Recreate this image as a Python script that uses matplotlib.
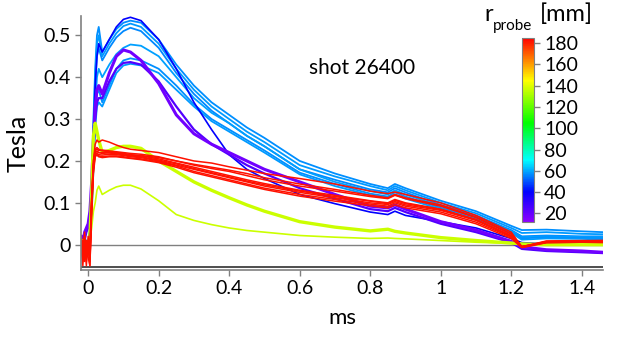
import numpy as np
import matplotlib
matplotlib.use("Agg")
import matplotlib.pyplot as plt
from matplotlib.colors import LinearSegmentedColormap, Normalize
from matplotlib.cm import ScalarMappable

plt.rcParams['font.family'] = ['Lato', 'DejaVu Sans']

# time base (ms)
t = [-0.02, -0.015, -0.01, -0.005, 0.0, 0.005, 0.01, 0.015, 0.02, 0.025, 0.03, 0.04,
     0.06, 0.08, 0.1, 0.12, 0.15, 0.2, 0.25, 0.3, 0.35, 0.4, 0.45, 0.5, 0.6, 0.7,
     0.8, 0.85, 0.87, 0.9, 1.0, 1.1, 1.2, 1.23, 1.3, 1.4, 1.46]

# probe radius of each trace (mm)
r_blue = [57, 58, 56, 59, 57, 58]
r_dark = 40
r_purple = [18, 24]
r_yellow = [137, 137]
r_red = 182

# light blue traces
b1 = [0.01, -0.01, 0.02, 0.0, 0.0, 0.04, 0.15, 0.3, 0.42, 0.5, 0.52, 0.46, 0.49, 0.515, 0.53, 0.535, 0.53,
      0.49, 0.43, 0.38, 0.34, 0.31, 0.28, 0.255, 0.2, 0.17, 0.145, 0.135, 0.145, 0.135, 0.105, 0.08, 0.045,
      0.035, 0.036, 0.032, 0.03]
b2 = [0.0, 0.01, -0.01, 0.01, 0.0, 0.03, 0.13, 0.28, 0.4, 0.48, 0.5, 0.45, 0.48, 0.505, 0.522, 0.528, 0.52,
      0.48, 0.42, 0.37, 0.33, 0.3, 0.27, 0.245, 0.19, 0.163, 0.14, 0.13, 0.14, 0.13, 0.1, 0.075, 0.04,
      0.028, 0.03, 0.026, 0.025]
b3 = [0.0, 0.0, 0.01, -0.01, 0.0, 0.03, 0.12, 0.26, 0.38, 0.45, 0.47, 0.44, 0.47, 0.495, 0.51, 0.518, 0.51,
      0.47, 0.41, 0.36, 0.32, 0.29, 0.26, 0.235, 0.18, 0.155, 0.132, 0.125, 0.135, 0.125, 0.095, 0.07, 0.035,
      0.02, 0.022, 0.02, 0.02]
b4 = [0.0, -0.02, 0.01, 0.0, -0.01, 0.02, 0.1, 0.22, 0.33, 0.4, 0.42, 0.4, 0.43, 0.455, 0.47, 0.478, 0.475,
      0.45, 0.4, 0.35, 0.315, 0.29, 0.26, 0.235, 0.18, 0.15, 0.128, 0.12, 0.13, 0.12, 0.092, 0.068, 0.032,
      0.018, 0.02, 0.018, 0.018]
b5 = [0.0, 0.0, -0.01, 0.01, 0.0, 0.02, 0.08, 0.2, 0.3, 0.36, 0.37, 0.34, 0.38, 0.42, 0.44, 0.445, 0.44,
      0.42, 0.38, 0.335, 0.3, 0.275, 0.25, 0.225, 0.172, 0.145, 0.122, 0.115, 0.125, 0.115, 0.088, 0.065, 0.03,
      0.015, 0.018, 0.016, 0.015]
b6 = [0.0, 0.01, 0.0, -0.02, 0.0, 0.02, 0.07, 0.18, 0.28, 0.33, 0.34, 0.33, 0.37, 0.41, 0.428, 0.432, 0.428,
      0.41, 0.37, 0.33, 0.295, 0.27, 0.245, 0.22, 0.168, 0.14, 0.118, 0.112, 0.12, 0.11, 0.085, 0.062, 0.028,
      0.012, 0.015, 0.014, 0.012]

# dark blue trace
d1 = [0.0, 0.01, 0.0, 0.0, 0.0, 0.03, 0.12, 0.26, 0.38, 0.45, 0.48, 0.46, 0.49, 0.52, 0.538, 0.543, 0.535,
      0.49, 0.42, 0.34, 0.275, 0.215, 0.18, 0.158, 0.12, 0.098, 0.078, 0.072, 0.08, 0.07, 0.055, 0.04, 0.015,
      0.005, 0.002, 0.0, 0.0]

# purple traces
p1 = [0.02, 0.0, 0.03, 0.04, 0.05, 0.08, 0.15, 0.25, 0.33, 0.37, 0.38, 0.36, 0.41, 0.45, 0.465, 0.46, 0.44,
      0.385, 0.31, 0.265, 0.24, 0.22, 0.2, 0.18, 0.15, 0.12, 0.092, 0.088, 0.095, 0.085, 0.055, 0.035, 0.008,
      -0.005, -0.012, -0.015, -0.018]
p2 = [0.0, 0.02, 0.01, 0.03, 0.04, 0.06, 0.12, 0.22, 0.3, 0.34, 0.35, 0.35, 0.39, 0.42, 0.434, 0.436, 0.43,
      0.39, 0.33, 0.275, 0.24, 0.215, 0.19, 0.17, 0.135, 0.11, 0.085, 0.08, 0.088, 0.078, 0.05, 0.03, 0.005,
      -0.01, -0.015, -0.018, -0.02]

# yellow-green traces
y1 = [0.0, 0.01, -0.01, 0.0, 0.0, 0.02, 0.12, 0.26, 0.29, 0.27, 0.25, 0.22, 0.225, 0.232, 0.235, 0.235, 0.23,
      0.2, 0.175, 0.15, 0.13, 0.112, 0.095, 0.08, 0.055, 0.042, 0.033, 0.037, 0.032, 0.028, 0.017, 0.01, 0.004,
      0.002, 0.0, 0.0, 0.0]
y2 = [0.0, 0.0, 0.01, -0.01, 0.0, 0.01, 0.04, 0.08, 0.1, 0.13, 0.14, 0.12, 0.13, 0.138, 0.142, 0.142, 0.133,
      0.105, 0.072, 0.058, 0.048, 0.04, 0.034, 0.03, 0.022, 0.018, 0.015, 0.016, 0.015, 0.014, 0.01, 0.006, 0.003,
      0.002, 0.0, 0.0, 0.0]

# red traces
red = [
    [0.0, -0.05, 0.02, -0.03, 0.01, -0.04, 0.1, 0.2, 0.24, 0.25, 0.245, 0.25, 0.245, 0.238, 0.232, 0.228, 0.225,
     0.22, 0.21, 0.2, 0.195, 0.186, 0.178, 0.17, 0.158, 0.145, 0.128, 0.122, 0.126, 0.12, 0.1, 0.07, 0.03,
     -0.005, 0.008, 0.009, 0.01],
    [0.02, -0.03, 0.0, -0.05, 0.02, -0.02, 0.11, 0.19, 0.225, 0.228, 0.225, 0.226, 0.224, 0.222, 0.22, 0.218, 0.216,
     0.21, 0.2, 0.19, 0.182, 0.175, 0.165, 0.155, 0.14, 0.128, 0.115, 0.11, 0.118, 0.11, 0.092, 0.065, 0.025,
     -0.006, 0.007, 0.008, 0.008],
    [-0.02, 0.01, -0.04, 0.0, -0.01, -0.05, 0.09, 0.18, 0.22, 0.222, 0.22, 0.218, 0.22, 0.219, 0.217, 0.214, 0.212,
     0.205, 0.195, 0.185, 0.175, 0.165, 0.155, 0.146, 0.13, 0.118, 0.105, 0.1, 0.108, 0.1, 0.085, 0.06, 0.022,
     -0.004, 0.006, 0.007, 0.007],
    [0.01, -0.02, 0.03, -0.04, 0.0, -0.03, 0.1, 0.19, 0.215, 0.218, 0.215, 0.214, 0.216, 0.215, 0.213, 0.21, 0.208,
     0.2, 0.19, 0.18, 0.17, 0.16, 0.15, 0.14, 0.125, 0.112, 0.1, 0.096, 0.103, 0.095, 0.082, 0.058, 0.02,
     -0.005, 0.006, 0.007, 0.006],
    [0.0, -0.04, 0.01, -0.02, -0.03, -0.05, 0.08, 0.17, 0.21, 0.215, 0.212, 0.21, 0.212, 0.212, 0.21, 0.207, 0.205,
     0.198, 0.188, 0.175, 0.165, 0.155, 0.145, 0.135, 0.12, 0.108, 0.097, 0.092, 0.1, 0.092, 0.078, 0.054, 0.018,
     -0.006, 0.005, 0.006, 0.006],
    [0.02, 0.0, -0.03, 0.01, -0.02, -0.01, 0.11, 0.2, 0.228, 0.232, 0.228, 0.224, 0.222, 0.22, 0.218, 0.215, 0.213,
     0.208, 0.2, 0.192, 0.185, 0.178, 0.17, 0.16, 0.145, 0.132, 0.118, 0.112, 0.12, 0.112, 0.095, 0.066, 0.026,
     -0.005, 0.009, 0.01, 0.01],
    [-0.01, -0.03, 0.02, -0.01, 0.01, -0.04, 0.09, 0.18, 0.212, 0.214, 0.21, 0.208, 0.21, 0.21, 0.208, 0.206, 0.203,
     0.196, 0.185, 0.172, 0.162, 0.152, 0.142, 0.132, 0.116, 0.104, 0.093, 0.088, 0.095, 0.088, 0.074, 0.05, 0.015,
     -0.007, 0.005, 0.006, 0.005],
    [0.0, -0.02, -0.01, -0.03, 0.0, -0.02, 0.1, 0.19, 0.22, 0.224, 0.22, 0.22, 0.219, 0.217, 0.215, 0.212, 0.21,
     0.202, 0.193, 0.182, 0.172, 0.162, 0.152, 0.143, 0.128, 0.115, 0.104, 0.098, 0.106, 0.098, 0.084, 0.06, 0.021,
     -0.005, 0.007, 0.008, 0.008],
]

# dark noise line just above the bottom axis
floor_t = [-0.02, 1.46]
floor_v = [-0.0535, -0.0535]

x_ticks = [0, 0.2, 0.4, 0.6, 0.8, 1.0, 1.2, 1.4]
x_labels = ["0", "0.2", "0.4", "0.6", "0.8", "1", "1.2", "1.4"]
y_ticks = [0, 0.1, 0.2, 0.3, 0.4, 0.5]
y_labels = ["0", "0.1", "0.2", "0.3", "0.4", "0.5"]
cb_ticks = [20, 40, 60, 80, 100, 120, 140, 160, 180]

# rainbow colour scale of the probe radius
cmap = LinearSegmentedColormap.from_list(
    "probe",
    [(0.0, (0.55, 0.0, 1.0)),
     ((40 - 12) / 173, (0.0, 0.0, 1.0)),
     ((70 - 12) / 173, (0.0, 1.0, 1.0)),
     ((105 - 12) / 173, (0.0, 1.0, 0.0)),
     ((145 - 12) / 173, (1.0, 1.0, 0.0)),
     (1.0, (1.0, 0.0, 0.0))])
norm = Normalize(vmin=12, vmax=185)

fig = plt.figure(figsize=(6.19, 3.5), dpi=100)
ax = fig.add_axes([0.131, 0.229, 0.843, 0.724])

ax.axhline(0, color="#808080", lw=1.0, zorder=1)
ax.plot(floor_t, floor_v, color="#303030", lw=1.2)

for r, v in zip(r_blue, [b1, b2, b3, b4, b5, b6]):
    ax.plot(t, v, color=cmap(norm(r)), lw=1.3)
ax.plot(t, d1, color=cmap(norm(r_dark)), lw=1.2)
ax.plot(t, p2, color=cmap(norm(r_purple[1])), lw=1.6)
ax.plot(t, p1, color=cmap(norm(r_purple[0])), lw=2.2)
ax.plot(t, y2, color=cmap(norm(r_yellow[1])), lw=1.2)
ax.plot(t, y1, color=cmap(norm(r_yellow[0])), lw=2.4)
for v in red:
    ax.plot(t, v, color=cmap(norm(r_red)), lw=1.1)

ax.set_xlim(-0.02, 1.46)
ax.set_ylim(-0.06, 0.545)
ax.set_xticks(x_ticks)
ax.set_xticklabels(x_labels)
ax.set_yticks(y_ticks)
ax.set_yticklabels(y_labels)
ax.tick_params(labelsize=14, colors="#808080", labelcolor="black", length=4, width=1)
for s in ["top", "right"]:
    ax.spines[s].set_visible(False)
for s in ["left", "bottom"]:
    ax.spines[s].set_color("#808080")
    ax.spines[s].set_linewidth(1.2)

ax.set_xlabel("ms", fontsize=16, labelpad=8)
ax.set_ylabel("Tesla", fontsize=18, labelpad=10)
fig.text(0.585, 0.805, "shot 26400", fontsize=15, ha="center", va="center")

# colorbar
cax = fig.add_axes([0.843, 0.366, 0.0194, 0.526])
cb = fig.colorbar(ScalarMappable(norm=norm, cmap=cmap), cax=cax)
cb.set_ticks(cb_ticks)
cb.outline.set_edgecolor("#808080")
cb.ax.tick_params(labelsize=14, colors="#808080", labelcolor="black", length=4, width=1)

fig.text(0.782, 0.94, "r", fontsize=17, ha="left", va="baseline")
fig.text(0.797, 0.915, "probe", fontsize=11, ha="left", va="baseline")
fig.text(0.872, 0.94, "[mm]", fontsize=17, ha="left", va="baseline")

fig.savefig("out.png", dpi=100)
